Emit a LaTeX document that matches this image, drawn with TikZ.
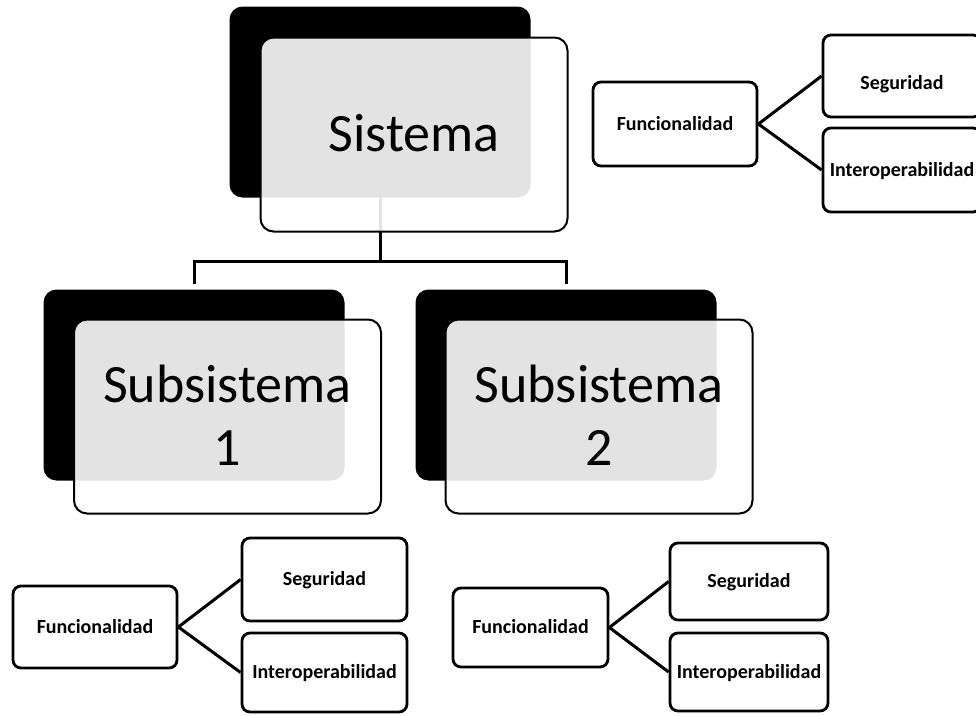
\documentclass[tikz,border=0pt]{standalone}
\usepackage{fontspec}
\setmainfont{Carlito}
\begin{document}
\begin{tikzpicture}[x=1pt,y=-1pt,
  backcard/.style={fill=black, rounded corners=13pt, minimum width=301pt,
    minimum height=191pt, inner sep=0pt},
  frontcard/.style={draw=black, line width=2pt, fill=white, fill opacity=0.89,
    text opacity=1, rounded corners=13pt, minimum width=307pt,
    minimum height=194pt, inner sep=0pt, align=center,
    font=\fontsize{54}{63}\selectfont, text depth=0pt},
  smallbox/.style={draw=black, line width=2.8pt, rounded corners=8pt,
    fill=white, inner sep=0pt, font=\bfseries\fontsize{20}{24}\selectfont,
    text height=12.6pt, text depth=0pt},
  link/.style={line width=3pt},
]
\useasboundingbox (0,0) rectangle (976,715);
\clip (0,0) rectangle (976,715);

% shadow cards
\node[backcard] (sysback)  at (380,102) {};
\node[backcard] (sub1back) at (194,385) {};
\node[backcard] (sub2back) at (566,385) {};

% hierarchy connectors
\coordinate (bus) at (380,261);
\draw[link] (sysback.south) -- (bus);
\draw[link] ([yshift=5pt]sub1back.north) |- (bus) -| ([yshift=5pt]sub2back.north);

% front cards
\node[frontcard, text height=34pt] (sys) at (414,134.5) {Sistema};
\node[frontcard, text height=97pt] (sub1) at (227.5,416.5) {Subsistema\\1};
\node[frontcard, text height=97pt] (sub2) at (599,416.5) {Subsistema\\2};

% quality attributes of the system
\node[smallbox, minimum width=164pt, minimum height=84pt] (fA) at (675,124) {Funcionalidad};
\node[smallbox, minimum width=158pt, minimum height=82pt] (sA) at (902,76) {\raisebox{-7.5pt}{Seguridad}};
\node[smallbox, minimum width=158pt, minimum height=84pt] (iA) at (902,170) {Interoperabilidad};
\draw[link] (fA.east) -- (sA.west);
\draw[link] (fA.east) -- (iA.west);

% quality attributes of subsystem 1
\node[smallbox, minimum width=164pt, minimum height=82pt] (fB) at (95,627) {Funcionalidad};
\node[smallbox, minimum width=165pt, minimum height=83pt] (sB) at (324.5,579.5) {Seguridad};
\node[smallbox, minimum width=165pt, minimum height=79pt] (iB) at (324.5,672.5) {Interoperabilidad};
\draw[link] (fB.east) -- (sB.west);
\draw[link] (fB.east) -- (iB.west);

% quality attributes of subsystem 2
\node[smallbox, minimum width=155pt, minimum height=79pt] (fC) at (530.5,627.5) {Funcionalidad};
\node[smallbox, minimum width=158pt, minimum height=77pt] (sC) at (749,581.5) {Seguridad};
\node[smallbox, minimum width=158pt, minimum height=78pt] (iC) at (749,672) {Interoperabilidad};
\draw[link] (fC.east) -- (sC.west);
\draw[link] (fC.east) -- (iC.west);
\end{tikzpicture}
\end{document}
